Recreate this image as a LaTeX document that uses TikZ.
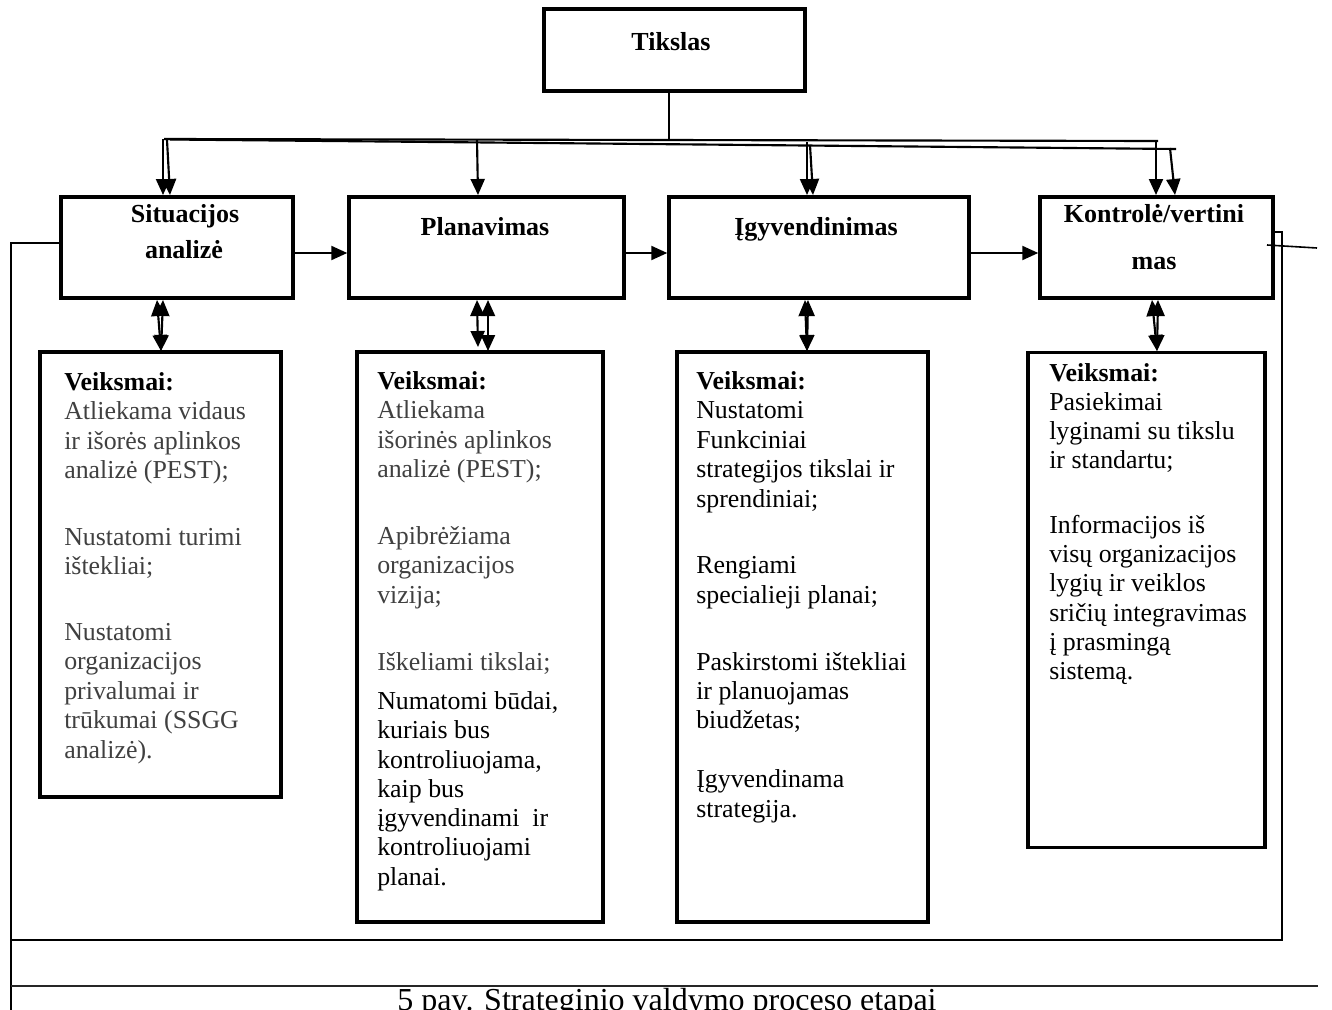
\documentclass[tikz,border=0pt]{standalone}
\usepackage{fontspec}
\setmainfont{Liberation Serif}
\usetikzlibrary{arrows.meta,calc}
\definecolor{txtgray}{gray}{0.25}
\begin{document}
\begin{tikzpicture}[x=0.75pt,y=-0.75pt,
  hbox/.style={draw,line width=2.6pt,minimum height=75.75pt,inner sep=0pt},
  bbox/.style={draw,line width=2.6pt,inner sep=0pt},
  ttl/.style={font=\fontsize{19.5pt}{22pt}\selectfont\bfseries,inner sep=0pt,anchor=base},
  ln/.style={font=\fontsize{19.4pt}{22pt}\selectfont,inner sep=0pt,anchor=base west},
  hd/.style={font=\fontsize{19.4pt}{22pt}\selectfont\bfseries,inner sep=0pt,anchor=base west},
  conn/.style={line width=1.6pt},
  arr/.style={line width=1.6pt,-{Triangle[length=12pt,width=10.5pt]}},
  darr/.style={line width=1.6pt,{Triangle[length=12pt,width=10.5pt]}-{Triangle[length=12pt,width=10.5pt]}},
  fbline/.style={line width=1.2pt}
]
\useasboundingbox (0,0) rectangle (1332,1010);
\clip (0,0) rectangle (1332,1010);
\fill[white] (0,0) rectangle (1332,1010);

% header boxes
\node[hbox,minimum width=195.75pt,minimum height=61.5pt] (tik) at (674.5,50) {};
\node[hbox,minimum width=174pt] (sit) at (177,247.5) {};
\node[hbox,minimum width=206.25pt] (plan) at (486.5,247.5) {};
\node[hbox,minimum width=225pt] (igy) at (819,247.5) {};
\node[hbox,minimum width=174.75pt] (kon) at (1156.5,247.5) {};

% body boxes
\node[bbox,minimum width=180.75pt,minimum height=333.75pt] (b1) at (160.5,574.5) {};
\node[bbox,minimum width=184.5pt,minimum height=427.5pt] (b2) at (480,637) {};
\node[bbox,minimum width=188.25pt,minimum height=427.5pt] (b3) at (802.5,637) {};
\node[bbox,minimum width=177.75pt,minimum height=371.25pt] (b4) at (1146.5,600) {};

% header texts
\node[ttl] (tikt) at (671,50) {Tikslas};
\node[ttl] (sitt1) at (185,222) {Situacijos};
\node[ttl] (sitt2) at (184,258) {analizė};
\node[ttl] (plant) at (485,235) {Planavimas};
\node[ttl] (igyt) at (816,235) {Įgyvendinimas};
\node[ttl] (kont1) at (1154,222) {Kontrolė/vertini};
\node[ttl] (kont2) at (1154,269) {mas};

% body texts
\node[hd] (b1h) at (64,390) {Veiksmai:};
\foreach \yy/\tx [count=\i] in {419.5/{Atliekama vidaus},449/{ir išorės aplinkos},478.5/{analizė (PEST);},545/{Nustatomi turimi},574.5/{ištekliai;},640/{Nustatomi},669.5/{organizacijos},699/{privalumai ir},728.5/{trūkumai (SSGG},758/{analizė).}}
  \node[ln,txtgray,name=b1t\i] at (64,\yy) {\tx};

\node[hd] (b2h) at (377,389) {Veiksmai:};
\foreach \yy/\tx [count=\i] in {418/{Atliekama},448/{išorinės aplinkos},477/{analizė (PEST);},544/{Apibrėžiama},573/{organizacijos},603/{vizija;},670/{Iškeliami tikslai;}}
  \node[ln,txtgray,name=b2t\i] at (377,\yy) {\tx};
\foreach \yy/\tx [count=\i] in {709/{Numatomi būdai,},738/{kuriais bus},768/{kontroliuojama,},797/{kaip bus},826/{įgyvendinami\ \ ir},855/{kontroliuojami},885/{planai.}}
  \node[ln,name=b2s\i] at (377,\yy) {\tx};

\node[hd] (b3h) at (696,389) {Veiksmai:};
\foreach \yy/\tx [count=\i] in {418/{Nustatomi},448/{Funkciniai},477/{strategijos tikslai ir},507/{sprendiniai;},573/{Rengiami},603/{specialieji planai;},670/{Paskirstomi ištekliai},699/{ir planuojamas},728/{biudžetas;},787/{Įgyvendinama},817/{strategija.}}
  \node[ln,name=b3t\i] at (696,\yy) {\tx};

\node[hd] (b4h) at (1049,381) {Veiksmai:};
\foreach \yy/\tx [count=\i] in {410/{Pasiekimai},439/{lyginami su tikslu},468/{ir standartu;},533/{Informacijos iš},562/{visų organizacijos},591/{lygių ir veiklos},621/{sričių integravimas},650/{į prasmingą},679/{sistemą.}}
  \node[ln,name=b4t\i] at (1049,\yy) {\tx};

% bus
\coordinate (bus) at (669,141);
\coordinate (la0) at (164,139);
\coordinate (la1) at (1158,141);
\coordinate (lb0) at (170,139.5);
\coordinate (lb1) at (1176,149);
\draw[conn] (tik.south -| bus) -- (bus);
\draw[conn] (la0) -- (la1);
\draw[conn] (lb0) -- (lb1);

% down arrows
\coordinate (s1) at (163,139);   \coordinate (s1e) at (163,195);
\coordinate (s2) at (167,140);   \coordinate (s2e) at (170,195);
\coordinate (p1) at (477,140);   \coordinate (p1e) at (478,195);
\coordinate (i1) at (807,142);   \coordinate (i1e) at (807,195);
\coordinate (i2) at (810,145);   \coordinate (i2e) at (813,195);
\coordinate (k1) at (1156,141);  \coordinate (k1e) at (1156,195);
\coordinate (k2) at (1170,148);  \coordinate (k2e) at (1175,195);
\draw[arr] (s1) -- (s1e);
\draw[arr] (s2) -- (s2e);
\draw[arr] (p1) -- (p1e);
\draw[arr] (i1) -- (i1e);
\draw[arr] (i2) -- (i2e);
\draw[arr] (k1) -- (k1e);
\draw[arr] (k2) -- (k2e);

% horizontal arrows
\coordinate (ya) at (0,253);
\draw[arr] (sit.east |- ya) -- (plan.west |- ya);
\draw[arr] (plan.east |- ya) -- (igy.west |- ya);
\draw[arr] (igy.east |- ya) -- (kon.west |- ya);

% double arrows header <-> body
\draw[darr] (157,300) -- (161,351);
\draw[darr] (163,300) -- (161,351);
\draw[darr] (477,300) -- (478,347);
\draw[darr] (488,300) -- (488,351);
\draw[darr] (805,300) -- (807,351);
\draw[darr] (808,300) -- (807,351);
\draw[darr] (1152,300) -- (1157,351);
\draw[darr] (1158,300) -- (1157,351);

% feedback lines
\coordinate (lf) at (11,243);
\coordinate (lfb) at (11,1012);
\draw[fbline] (sit.west |- lf) -- (lf) -- (lfb);
\coordinate (rf) at (1282,232);
\coordinate (rfb) at (1282,940);
\coordinate (bl) at (11,940);
\draw[fbline] (kon.east |- rf) -- (rf) -- (rfb) -- (bl);
\coordinate (cx0) at (1267,245);
\coordinate (cx1) at (1317,248);
\draw[fbline] (cx0) -- (cx1);
\coordinate (bot0) at (11,986);
\coordinate (bot1) at (1318,986);
\draw[conn,black!85] (bot0) -- (bot1);

% caption
\node[font=\fontsize{24pt}{28pt}\selectfont,inner sep=0pt,anchor=base] (cap) at (667,1010) {5 pav. Strateginio valdymo proceso etapai};
\end{tikzpicture}
\end{document}
